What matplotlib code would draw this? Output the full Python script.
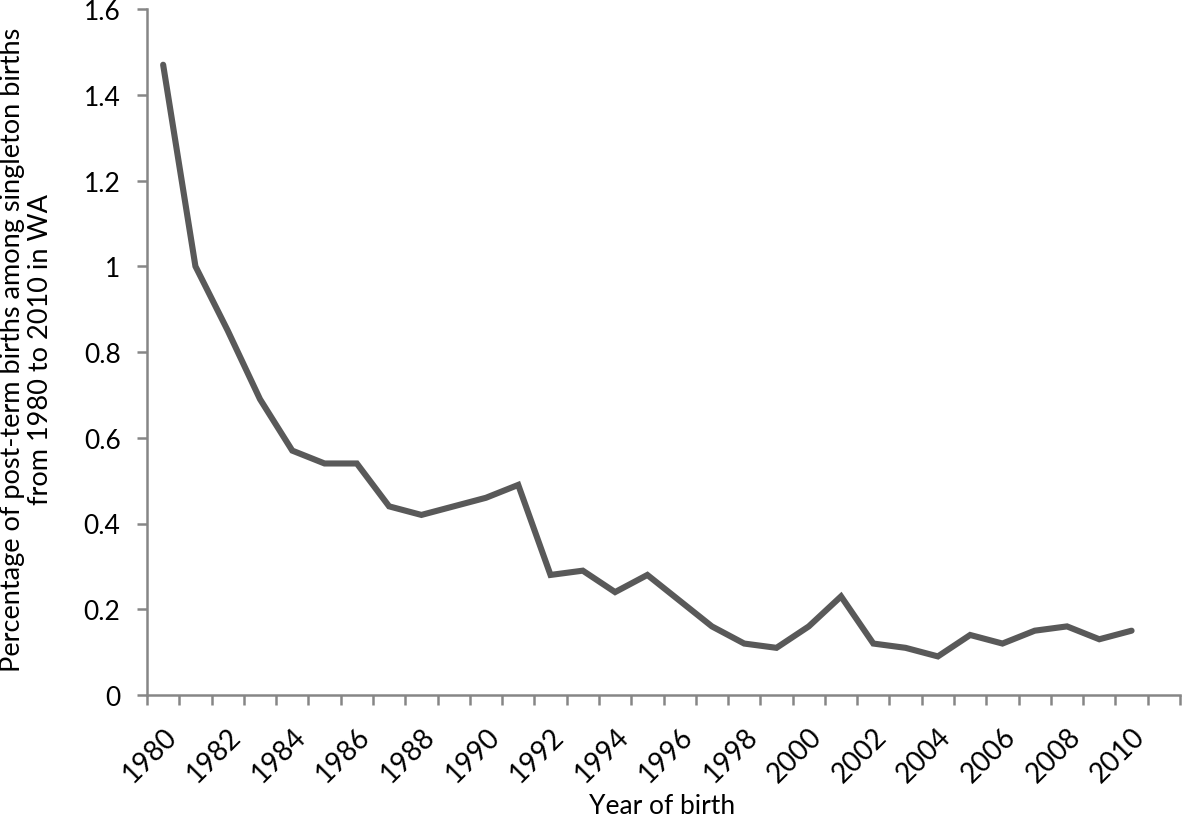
import numpy as np
import matplotlib
matplotlib.use("Agg")
from matplotlib import pyplot as plt
from matplotlib.transforms import ScaledTranslation

years = list(range(1980, 2012))
values = [1.47, 1.00, 0.85, 0.69, 0.57, 0.54, 0.54, 0.44, 0.42, 0.44,
          0.46, 0.49, 0.28, 0.29, 0.24, 0.28, 0.22, 0.16, 0.12, 0.11,
          0.16, 0.23, 0.12, 0.11, 0.09, 0.14, 0.12, 0.15, 0.16, 0.13,
          0.15, np.nan]
yticks = [0, 0.2, 0.4, 0.6, 0.8, 1.0, 1.2, 1.4, 1.6]
ytick_labels = ['0', '0.2', '0.4', '0.6', '0.8', '1', '1.2', '1.4', '1.6']

plt.rcParams['font.family'] = ['Lato', 'DejaVu Sans']
axis_col = '#868686'

fig = plt.figure(figsize=(11.82, 8.2), dpi=100)
ax = fig.add_axes([147 / 1182, 1 - 696 / 820, (1180 - 147) / 1182, (696 - 10) / 820])

x = np.arange(len(years))
ax.plot(x, values, color='#595959', lw=4.4, solid_joinstyle='miter', solid_capstyle='round')

ax.set_xlim(-0.5, len(years) - 0.5)
ax.set_ylim(0, 1.6)
ax.set_yticks(yticks)
ax.set_yticklabels(ytick_labels, fontsize=19)

# ticks at category boundaries, labels at every other category centre
ax.set_xticks(np.arange(len(years) + 1) - 0.5)
ax.set_xticklabels([])
ax.set_xticks(x[::2], minor=True)
ax.set_xticklabels([str(y) for y in years[::2]], minor=True, rotation=45,
                   ha='right', va='top', rotation_mode='anchor', fontsize=20)
shift = ScaledTranslation(7 / 100, 0, fig.dpi_scale_trans)
for lbl in ax.get_xticklabels(minor=True):
    lbl.set_transform(lbl.get_transform() + shift)
ax.tick_params(axis='x', which='minor', length=0, pad=20)
ax.tick_params(axis='x', which='major', length=7, width=1.8, color=axis_col, direction='out')
ax.tick_params(axis='y', length=7, width=1.8, color=axis_col, direction='out', pad=12)

for s in ['top', 'right']:
    ax.spines[s].set_visible(False)
for s in ['left', 'bottom']:
    ax.spines[s].set_color(axis_col)
    ax.spines[s].set_linewidth(1.8)

ax.set_xlabel('Year of birth', fontsize=19)
ax.xaxis.set_label_coords(0.4985, -0.143)
ax.set_ylabel('Percentage of post-term births among singleton births\nfrom 1980 to 2010 in WA',
              fontsize=19.5, linespacing=1.15)
ax.yaxis.set_label_coords(-0.091, 0.505)

fig.savefig('out.png', dpi=100)
